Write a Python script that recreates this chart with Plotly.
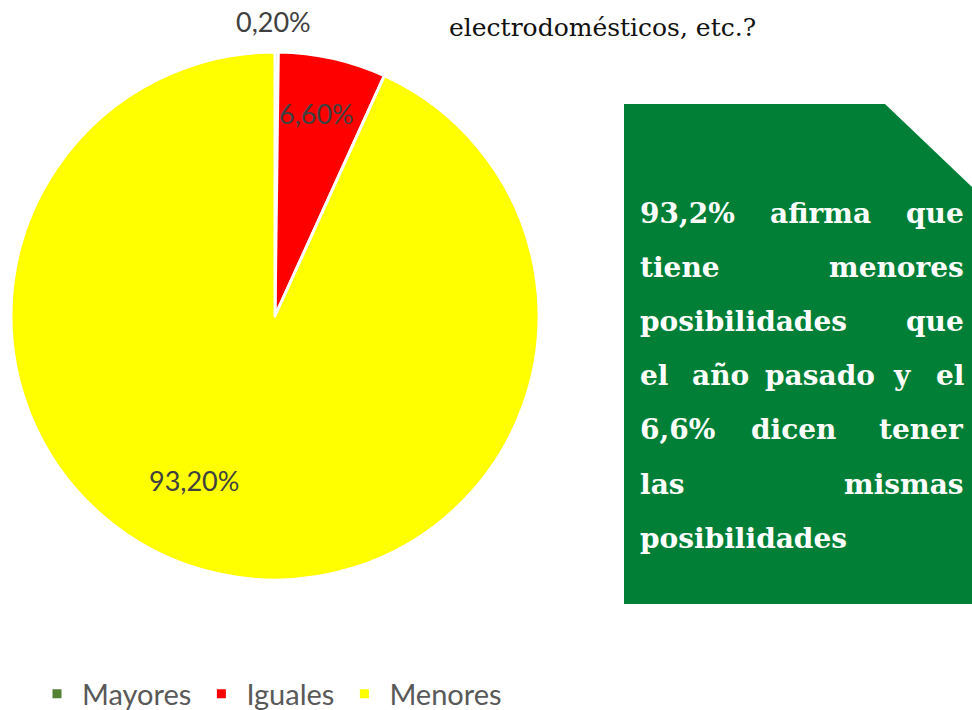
import plotly.graph_objects as go

# Data
categorias = ["Mayores", "Iguales", "Menores"]
porcentajes = [0.2, 6.6, 93.2]
colores = ["#548235", "#FF0000", "#FFFF00"]

W, H = 972, 710


def px_x(x):
    return x / W


def px_y(y):
    return 1 - y / H


fig = go.Figure()

fig.add_trace(go.Pie(
    labels=categorias,
    values=porcentajes,
    sort=False,
    direction="clockwise",
    rotation=0,
    textinfo="none",
    hoverinfo="label+percent",
    marker=dict(colors=colores, line=dict(color="white", width=3)),
    domain=dict(x=[px_x(11), px_x(539)], y=[px_y(580), px_y(52)]),
))

annotations = []

# Slice labels
label_pos = [(273, 22), (316, 113), (194, 480)]
for v, (x, y) in zip(porcentajes, label_pos):
    annotations.append(dict(
        x=px_x(x), y=px_y(y), xref="paper", yref="paper",
        text=f"{v:.2f}".replace(".", ",") + "%",
        showarrow=False, xanchor="center", yanchor="middle",
        font=dict(family="Lato", size=27, color="#404040"),
    ))

# Top text (fragment of question)
annotations.append(dict(
    x=px_x(447), y=px_y(28), xref="paper", yref="paper",
    text="electrodomésticos, etc.?", showarrow=False,
    xanchor="left", yanchor="middle",
    font=dict(family="DejaVu Serif", size=25, color="#111111"),
))

# Green box text, justified line by line
lineas = [
    ["93,2%", "afirma", "que"],
    ["tiene", "menores"],
    ["posibilidades", "que"],
    ["el", "año", "pasado", "y", "el"],
    ["6,6%", "dicen", "tener"],
    ["las", "mismas"],
    ["posibilidades"],
]
x_left, x_right = 638, 966
y0, dy = 213, 54.2
font_box = dict(family="DejaVu Serif", size=28, color="white", weight="bold")
char_w = 18
for i, words in enumerate(lineas):
    y = y0 + i * dy
    if len(words) == 1:
        annotations.append(dict(x=px_x(x_left), y=px_y(y), xref="paper", yref="paper",
                                text=words[0], showarrow=False, xanchor="left",
                                yanchor="middle", font=font_box))
        continue
    widths = [len(w) * char_w for w in words]
    gap = (x_right - x_left - sum(widths)) / (len(words) - 1)
    cx = x_left
    for j, w in enumerate(words):
        if j == 0:
            xa, xx = "left", x_left
        elif j == len(words) - 1:
            xa, xx = "right", x_right
        else:
            xa, xx = "center", cx + widths[j] / 2
        annotations.append(dict(x=px_x(xx), y=px_y(y), xref="paper", yref="paper",
                                text=w, showarrow=False, xanchor=xa,
                                yanchor="middle", font=font_box))
        cx += widths[j] + gap

fig.update_layout(
    width=W, height=H,
    margin=dict(l=0, r=0, t=0, b=0, autoexpand=False),
    paper_bgcolor="white",
    plot_bgcolor="white",
    annotations=annotations,
    shapes=[dict(
        type="path", xref="paper", yref="paper",
        path=(f"M {px_x(624)} {px_y(104)} L {px_x(885)} {px_y(104)} "
              f"L {px_x(972)} {px_y(187)} L {px_x(972)} {px_y(604)} "
              f"L {px_x(624)} {px_y(604)} Z"),
        fillcolor="#017F37", line=dict(width=0), layer="below",
    )],
    showlegend=True,
    legend=dict(
        orientation="h", x=px_x(32), y=px_y(694),
        xanchor="left", yanchor="middle",
        font=dict(family="Lato", size=29, color="#595959"),
        itemwidth=40,
        traceorder="normal",
    ),
)

# remove the default page margin so the figure fills the window
fig.write_html("out.html", config={"displayModeBar": False},
               post_script="document.body.style.margin='0';document.body.style.overflow='hidden';")
